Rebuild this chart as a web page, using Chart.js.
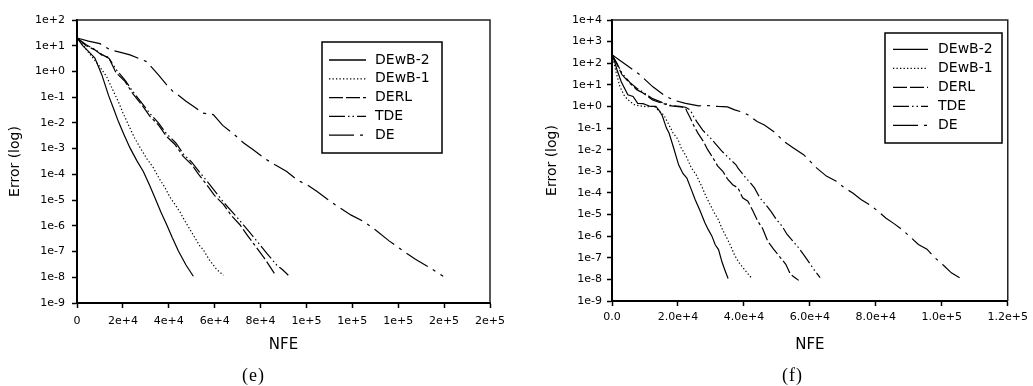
<!DOCTYPE html>
<html>
<head>
<meta charset="utf-8">
<script src="https://cdn.jsdelivr.net/npm/chart.js@4.4.1/dist/chart.umd.min.js"></script>
<style>
  body { margin: 0; background: #fff; width: 1033px; height: 386px; position: relative; overflow: hidden; }
  canvas { position: absolute; top: 0; }
  #chartE { left: 0; }
  #chartF { left: 516px; }
  .cap { position: absolute; top: 365px; font-family: "Liberation Serif", serif; font-size: 18px; line-height: 20px; letter-spacing: 1px; color: #000; }
</style>
</head>
<body>
<canvas id="chartE" width="516" height="386"></canvas>
<canvas id="chartF" width="517" height="386"></canvas>
<div class="cap" style="left:242px">(e)</div>
<div class="cap" style="left:782px">(f)</div>
<script>
const seriesLabels = ['DEwB-2', 'DEwB-1', 'DERL', 'TDE', 'DE'];

// panel (e) axes
const xTicksE = [0, 20000, 40000, 60000, 80000, 100000, 120000, 140000, 160000, 180000];
const xLabelsE = ['0', '2e+4', '4e+4', '6e+4', '8e+4', '1e+5', '1e+5', '1e+5', '2e+5', '2e+5'];
const yLabelsE = ['1e-9', '1e-8', '1e-7', '1e-6', '1e-5', '1e-4', '1e-3', '1e-2', '1e-1', '1e+0', '1e+1', '1e+2'];

// panel (f) axes
const xTicksF = [0, 20000, 40000, 60000, 80000, 100000, 120000];
const xLabelsF = ['0.0', '2.0e+4', '4.0e+4', '6.0e+4', '8.0e+4', '1.0e+5', '1.2e+5'];
const yLabelsF = ['1e-9', '1e-8', '1e-7', '1e-6', '1e-5', '1e-4', '1e-3', '1e-2', '1e-1', '1e+0', '1e+1', '1e+2', '1e+3', '1e+4'];

// panel (e) series: [NFE, error]
const eDEwB2 = [[0,20],[2500,10],[5000,6],[7800,3.3],[10800,0.75],[13700,0.12],[16000,0.035],[18000,0.0115],[20500,0.0035],[23100,0.00107],[26000,3.5e-4],[28900,1.3e-4],[31500,4e-5],[34000,1.2e-5],[36500,3.5e-6],[39100,1.1e-6],[41500,3.5e-7],[44200,1.05e-7],[47500,3e-8],[50700,1.1e-8]];
const eDEwB1 = [[0,20],[2500,11],[5000,5.5],[9000,2],[12900,0.63],[15500,0.2],[18000,0.068],[20000,0.025],[22400,0.0085],[25000,0.0027],[27500,0.0011],[30500,4e-4],[33300,1.8e-4],[36000,6.5e-5],[38400,3e-5],[40500,1.3e-5],[42700,6.8e-6],[45000,3.3e-6],[47100,1.5e-6],[50000,5.5e-7],[53600,1.6e-7],[55000,1.2e-7],[57500,5e-8],[60900,2e-8],[63800,1.2e-8]];
const eDERL = [[0,20],[4000,10],[7800,6.9],[11000,4.2],[13700,3.6],[17000,0.9],[20900,0.41],[24500,0.13],[28200,0.051],[31800,0.018],[35400,0.0085],[39000,0.003],[42700,0.00145],[46300,5e-4],[50000,2.4e-4],[53000,1e-4],[56500,4e-5],[60000,1.5e-5],[63800,6.8e-6],[67300,2.5e-6],[71000,1.1e-6],[74500,4e-7],[78300,1.4e-7],[82000,5e-8],[86300,1.3e-8]];
const eTDE = [[0,20],[4000,11],[8000,7],[11000,4.5],[14000,3.2],[17000,1.2],[21000,0.45],[24500,0.16],[28200,0.06],[32000,0.022],[35500,0.01],[39000,0.0038],[43000,0.0017],[46500,6e-4],[50000,3e-4],[53500,1.2e-4],[57000,5e-5],[60500,2e-5],[64000,8e-6],[68000,3.2e-6],[71500,1.4e-6],[75000,6e-7],[79000,2.2e-7],[83000,8e-8],[87000,3e-8],[89500,2e-8],[92100,1.2e-8]];
const eDE = [[0,20],[5000,15],[10000,12],[14400,7],[19000,5.5],[23100,4.4],[27000,3.2],[30400,2.4],[35400,0.75],[39100,0.3],[42000,0.16],[44900,0.107],[47500,0.07],[50700,0.044],[55000,0.024],[59400,0.021],[63500,0.008],[68100,0.0038],[72500,0.0017],[76800,9e-4],[82000,4e-4],[86500,2.3e-4],[91400,1.3e-4],[96000,6e-5],[100500,3.8e-5],[104500,2.2e-5],[109000,1.1e-5],[114500,5e-6],[119500,2.6e-6],[124800,1.5e-6],[130000,7e-7],[136000,2.6e-7],[142200,1.05e-7],[147500,5e-8],[153000,2.6e-8],[159600,1.1e-8]];

// panel (f) series: [NFE, error]
const fDEwB2 = [[0,250],[800,120],[1500,50],[2800,14],[4800,3.5],[6400,2.9],[7800,1.4],[9400,1.35],[11700,1.0],[13300,1.0],[14500,0.6],[15300,0.35],[16500,0.1],[17300,0.059],[18700,0.012],[20200,0.002],[21500,8e-4],[22700,4.9e-4],[24000,1.5e-4],[25200,5e-5],[26700,1.5e-5],[28200,4.1e-6],[29200,2e-6],[30300,1e-6],[31300,4e-7],[32300,2.4e-7],[33400,6e-8],[34300,2.5e-8],[35200,1.1e-8]];
const fDEwB1 = [[0,250],[700,90],[1300,35],[2400,8.3],[3800,3],[5400,1.7],[6800,1.2],[8400,1.07],[10300,0.98],[12300,1.0],[13000,0.95],[14300,0.6],[15700,0.4],[17000,0.17],[18500,0.06],[20000,0.03],[21000,0.012],[22500,5e-3],[24000,1.5e-3],[25500,7e-4],[27200,2e-4],[28500,7e-5],[29700,3e-5],[31000,1.2e-5],[32200,6e-6],[33500,2e-6],[34700,9e-7],[36000,3.5e-7],[37200,1.3e-7],[38500,6e-8],[39700,3.5e-8],[41000,2e-8],[42200,1.2e-8]];
const fDERL = [[0,250],[1500,90],[3000,30],[5400,12],[7500,6],[9400,4.2],[11000,2.8],[12300,2],[14000,1.6],[15300,1.4],[17300,1.1],[19300,1.0],[21000,0.95],[22300,0.83],[22700,0.6],[23700,0.3],[24700,0.14],[26000,0.06],[27700,0.024],[29000,0.01],[30650,0.0041],[32000,0.0018],[33600,0.001],[35000,4.5e-4],[36600,2.4e-4],[38200,1.7e-4],[39600,5.9e-5],[41200,4.1e-5],[42700,1.5e-5],[44200,4.9e-6],[45700,2.2e-6],[47200,5.9e-7],[49000,2.5e-7],[51100,1e-7],[52700,5e-8],[54100,1.7e-8],[55500,1.2e-8],[56600,9e-9]];
const fTDE = [[0,250],[1500,100],[3000,35],[5400,13],[7500,7],[9400,4.6],[12300,2.3],[15300,1.5],[18000,1.1],[20500,1.0],[22300,0.92],[23700,0.7],[24700,0.35],[25700,0.2],[27500,0.08],[29500,0.04],[31600,0.017],[33500,0.008],[35500,0.004],[37600,0.002],[38200,0.0014],[39500,8e-4],[40600,4.9e-4],[41900,3e-4],[43200,1.7e-4],[44800,6e-5],[46500,3e-5],[48200,1.4e-5],[49800,6e-6],[51500,3e-6],[53100,1.2e-6],[54800,6e-7],[56500,3e-7],[58100,1.4e-7],[59800,6e-8],[61500,2.5e-8],[63100,1.2e-8]];
const fDE = [[0,250],[2000,150],[5000,70],[8500,29],[12300,8.3],[16300,2.9],[19500,1.8],[22300,1.4],[26300,1.07],[29000,1.1],[32200,1.0],[35000,0.95],[37200,0.7],[39500,0.55],[41200,0.41],[44000,0.2],[46200,0.14],[49600,0.059],[52100,0.024],[55000,0.012],[58100,0.0059],[62100,0.0014],[65000,6e-4],[68000,3.5e-4],[70500,1.7e-4],[73000,1e-4],[75500,5e-5],[78000,2.9e-5],[80500,1.5e-5],[83000,6.9e-6],[85500,3.8e-6],[88000,2e-6],[90500,9e-7],[92900,4.1e-7],[95500,2.5e-7],[97900,1e-7],[100500,4.5e-8],[102900,2e-8],[105400,1.2e-8]];

// line styles, same order as seriesLabels
const dashes = [[], [1.3, 2.2], [14, 3, 14, 3, 3, 3], [16, 3, 1.5, 3, 1.5, 3], [25, 6, 3, 6]];

Chart.defaults.font.family = '"DejaVu Sans", sans-serif';
Chart.defaults.color = '#000';

// top/right frame lines and the boxed legend
const frameLegend = {
  id: 'frameLegend',
  afterDatasetsDraw(chart, args, opts) {
    const { ctx, chartArea: a } = chart;
    ctx.save();
    ctx.strokeStyle = '#222';
    ctx.lineWidth = 1.5;
    ctx.beginPath();
    ctx.moveTo(a.left, a.top);
    ctx.lineTo(a.right, a.top);
    ctx.lineTo(a.right, a.bottom);
    ctx.stroke();

    const b = opts.box;
    ctx.fillStyle = '#fff';
    ctx.fillRect(b.x, b.y, b.w, b.h);
    ctx.strokeStyle = '#000';
    ctx.strokeRect(b.x, b.y, b.w, b.h);
    ctx.font = '14px "DejaVu Sans"';
    ctx.textBaseline = 'middle';
    ctx.fillStyle = '#000';
    chart.data.datasets.forEach((ds, i) => {
      const y = b.y + opts.rowTop + i * opts.rowGap;
      ctx.lineWidth = 1.3;
      ctx.setLineDash(ds.borderDash);
      ctx.beginPath();
      ctx.moveTo(b.x + opts.lineX0, y);
      ctx.lineTo(b.x + opts.lineX1, y);
      ctx.stroke();
      ctx.setLineDash([]);
      ctx.fillText(ds.label, b.x + opts.textX, y);
    });
    ctx.restore();
  }
};

function makePanel(id, o) {
  return new Chart(document.getElementById(id), {
    type: 'line',
    data: {
      datasets: o.series.map((pts, i) => ({
        label: seriesLabels[i],
        data: pts.map(p => ({ x: p[0], y: p[1] })),
        borderColor: '#000',
        borderWidth: 1.2,
        borderDash: dashes[i],
        pointRadius: 0,
        tension: 0,
        fill: false
      }))
    },
    options: {
      responsive: false,
      animation: false,
      layout: { padding: { left: o.padLeft, top: 20, right: o.padRight, bottom: 0 } },
      plugins: { legend: { display: false }, tooltip: { enabled: false }, frameLegend: o.legend },
      scales: {
        x: {
          type: 'linear',
          min: o.xTicks[0],
          max: o.xTicks[o.xTicks.length - 1],
          afterBuildTicks: s => { s.ticks = o.xTicks.map(v => ({ value: v })); },
          afterFit: s => { s.height = o.xHeight; },
          ticks: { callback: (v, i) => o.xLabels[i], font: { size: 11 }, padding: o.xPad, maxRotation: 0, autoSkip: false },
          grid: { drawOnChartArea: false, drawTicks: true, tickLength: 5, tickWidth: 1.5, color: '#000' },
          border: { display: true, color: '#000', width: 2 },
          title: { display: true, text: 'NFE', font: { size: 15 }, padding: { top: 0, bottom: 32 } }
        },
        y: {
          type: 'logarithmic',
          min: Number(o.yLabels[0]),
          max: Number(o.yLabels[o.yLabels.length - 1]),
          afterBuildTicks: s => { s.ticks = o.yLabels.map(t => ({ value: Number(t) })); },
          afterFit: s => { s.width = o.yWidth; },
          ticks: { callback: (v, i) => o.yLabels[i], font: { size: 11 }, padding: o.yPad, autoSkip: false },
          grid: { drawOnChartArea: false, drawTicks: true, tickLength: 5, tickWidth: 1.5, color: '#000' },
          border: { display: true, color: '#000', width: 2 },
          title: { display: true, text: 'Error (log)', font: { size: 14 }, padding: { top: o.yTitlePad, bottom: 0 } }
        }
      }
    },
    plugins: [frameLegend]
  });
}

makePanel('chartE', {
  series: [eDEwB2, eDEwB1, eDERL, eTDE, eDE],
  xTicks: xTicksE, xLabels: xLabelsE, yLabels: yLabelsE,
  padLeft: 0, padRight: 26, yWidth: 77, xHeight: 83, xPad: 7, yPad: 7, yTitlePad: 7,
  legend: { box: { x: 322, y: 42, w: 120, h: 111 }, rowTop: 18, rowGap: 18.8, lineX0: 7, lineX1: 44, textX: 53 }
});

makePanel('chartF', {
  series: [fDEwB2, fDEwB1, fDERL, fTDE, fDE],
  xTicks: xTicksF, xLabels: xLabelsF, yLabels: yLabelsF,
  padLeft: 25, padRight: 19, yWidth: 71, xHeight: 85, xPad: 5, yPad: 5, yTitlePad: 3,
  legend: { box: { x: 369, y: 33, w: 117, h: 110 }, rowTop: 16.3, rowGap: 19, lineX0: 8, lineX1: 43, textX: 53 }
});
</script>
</body>
</html>
